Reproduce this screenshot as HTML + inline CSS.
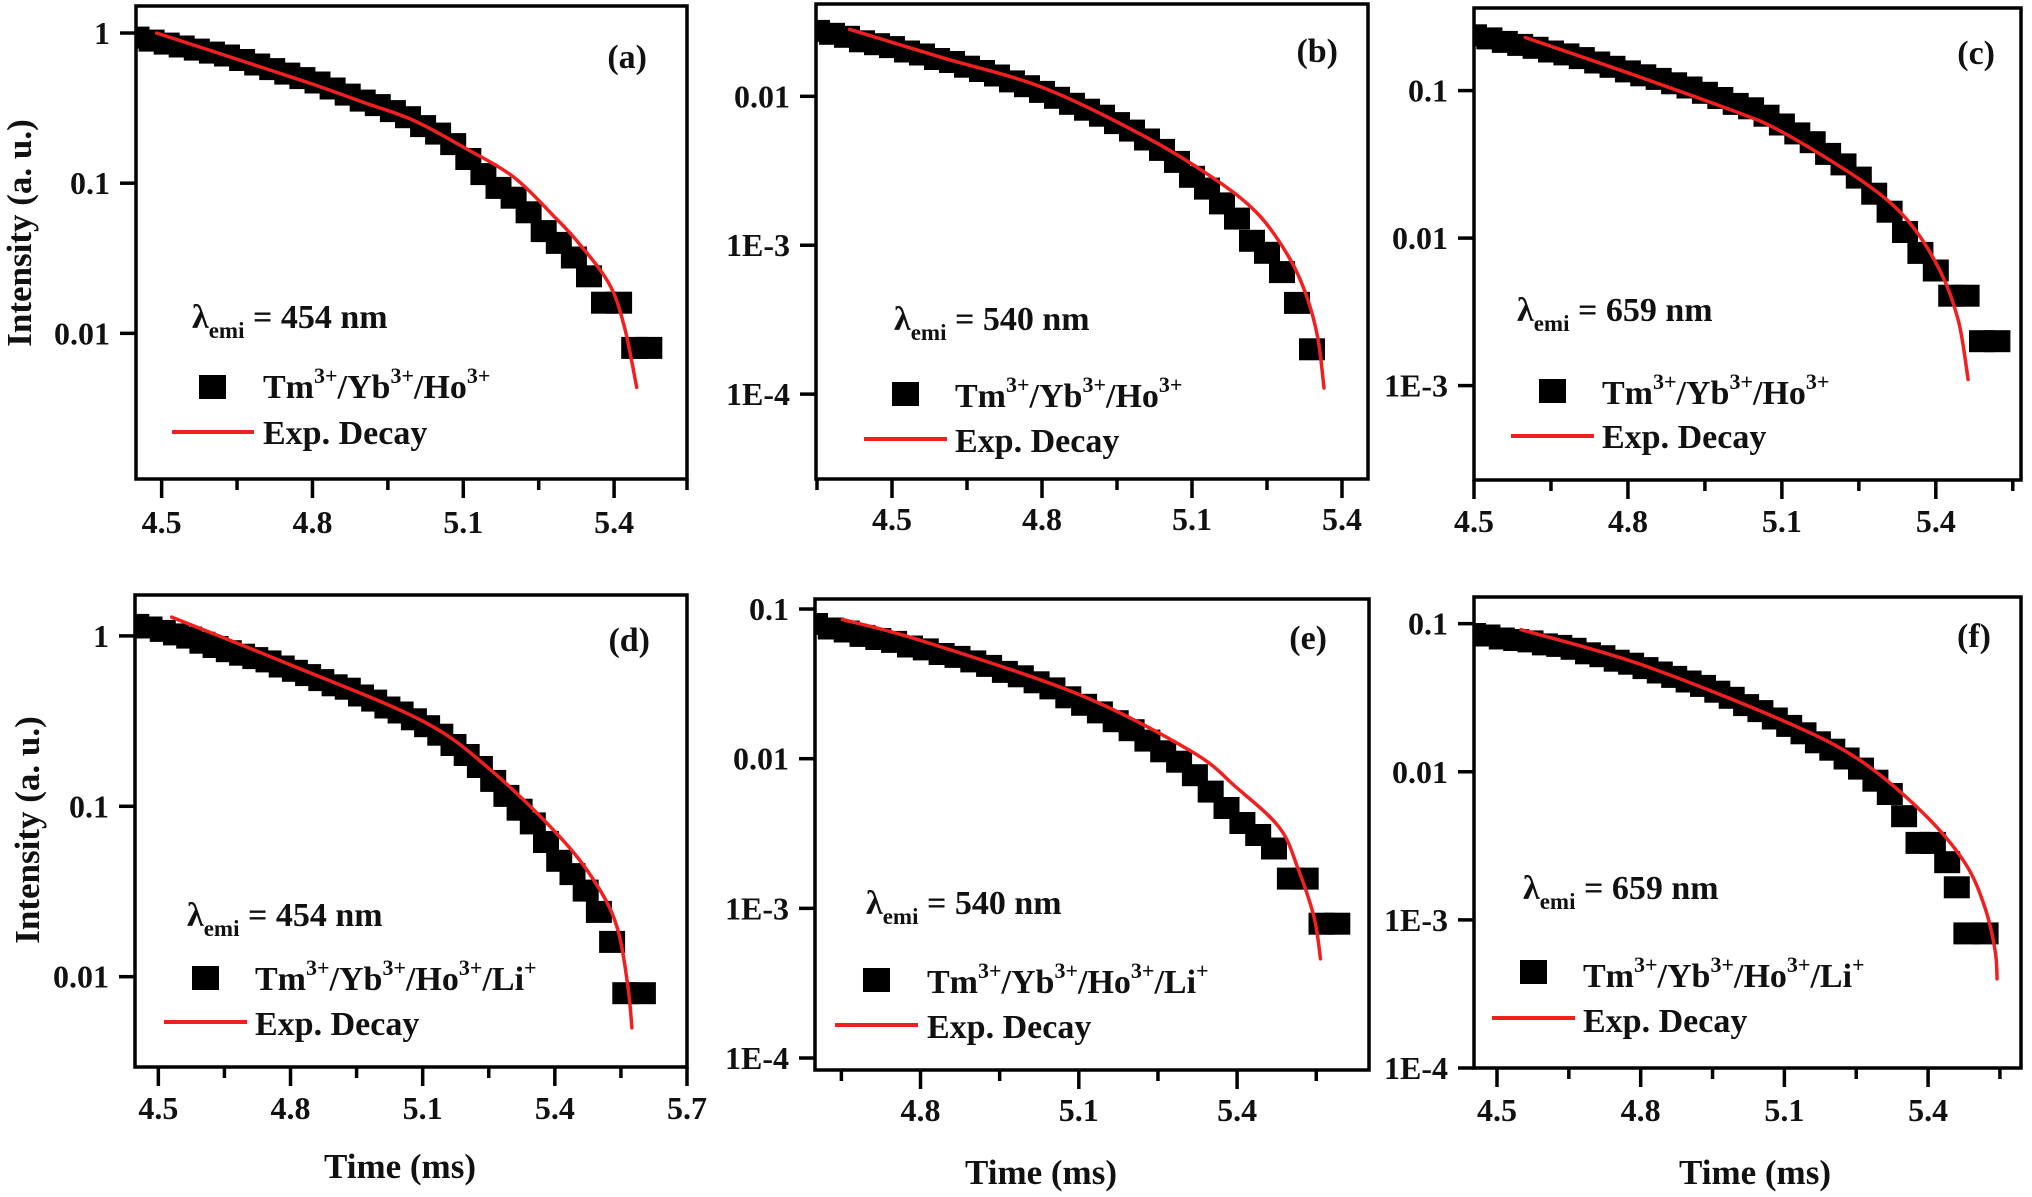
<!DOCTYPE html>
<html><head><meta charset="utf-8">
<style>
html,body{margin:0;padding:0;background:#fff;}
svg{display:block;}
text{font-family:"Liberation Serif","DejaVu Serif",serif;font-weight:bold;fill:#111;}
</style></head>
<body>
<svg id="fig" width="2032" height="1197" viewBox="0 0 2032 1197" xmlns="http://www.w3.org/2000/svg"></svg>
<script>
// ---- data (time in ms, intensity in a.u.) ----
const aTime=[4.45,4.48,4.51,4.54,4.57,4.60,4.63,4.66,4.69,4.72,4.75,4.78,4.81,4.84,4.87,4.90,4.93,4.96,4.99,5.02,5.05,5.08,5.11,5.14,5.17,5.20,5.23,5.26,5.29,5.32,5.35,5.38,5.41,5.44,5.47];
const aInt=[0.933,0.891,0.851,0.813,0.776,0.741,0.708,0.661,0.617,0.575,0.537,0.501,0.468,0.427,0.389,0.355,0.331,0.302,0.275,0.240,0.214,0.182,0.145,0.115,0.093,0.080,0.064,0.048,0.040,0.032,0.024,0.016,0.016,0.008,0.008];
const aFitTime=[4.49,4.6,4.7,4.8,4.9,5.0,5.1,5.2,5.28,5.33,5.39,5.42,5.445];
const aFitInt=[1.0,0.759,0.589,0.457,0.347,0.263,0.174,0.110,0.0603,0.0398,0.0214,0.0112,0.00437];

const bTime=[4.35,4.38,4.41,4.44,4.47,4.50,4.53,4.56,4.59,4.62,4.65,4.68,4.71,4.74,4.77,4.80,4.83,4.86,4.89,4.92,4.95,4.98,5.01,5.04,5.07,5.10,5.13,5.16,5.19,5.22,5.25,5.28,5.31,5.34];
const bInt=[0.0275,0.0263,0.0251,0.0234,0.0224,0.0214,0.0200,0.0191,0.0178,0.0170,0.0158,0.0148,0.0138,0.0126,0.0117,0.0107,0.00977,0.00891,0.00813,0.00741,0.00661,0.00589,0.00513,0.00437,0.00363,0.00288,0.00240,0.00191,0.00151,0.00107,0.00089,0.00066,0.00041,0.00020];
const bFitTime=[4.415,4.6,4.8,5.0,5.143,5.232,5.294,5.33,5.352,5.364];
const bFitInt=[0.0282,0.0182,0.0115,0.0055,0.00282,0.00162,0.00083,0.000447,0.000234,0.00011];

const cTime=[4.50,4.53,4.56,4.59,4.62,4.65,4.68,4.71,4.74,4.77,4.80,4.83,4.86,4.89,4.92,4.95,4.98,5.01,5.04,5.07,5.10,5.13,5.16,5.19,5.22,5.25,5.28,5.31,5.34,5.37,5.40,5.43,5.46,5.49,5.52];
const cInt=[0.237,0.226,0.214,0.204,0.195,0.184,0.176,0.166,0.155,0.145,0.135,0.127,0.120,0.112,0.105,0.0966,0.0891,0.0813,0.0759,0.0676,0.0589,0.0513,0.0447,0.0372,0.0316,0.0257,0.0200,0.0151,0.0110,0.00794,0.00603,0.00407,0.00407,0.0020,0.0020];
const cFitTime=[4.60,4.80,5.0,5.10,5.259,5.345,5.408,5.444,5.463];
const cFitInt=[0.229,0.132,0.0741,0.0525,0.0240,0.0132,0.00603,0.00275,0.0011];

const dTime=[4.45,4.48,4.51,4.54,4.57,4.60,4.63,4.66,4.69,4.72,4.75,4.78,4.81,4.84,4.87,4.90,4.93,4.96,4.99,5.02,5.05,5.08,5.11,5.14,5.17,5.20,5.23,5.26,5.29,5.32,5.35,5.38,5.41,5.44,5.47,5.50,5.53,5.56,5.60];
const dInt=[1.16,1.12,1.07,1.02,0.977,0.912,0.861,0.813,0.776,0.741,0.708,0.661,0.624,0.589,0.550,0.513,0.490,0.447,0.417,0.380,0.355,0.324,0.295,0.263,0.229,0.200,0.170,0.141,0.115,0.0955,0.0794,0.0617,0.0479,0.040,0.032,0.024,0.016,0.008,0.008];
const dFitTime=[4.53,4.8,5.1,5.256,5.408,5.49,5.54,5.565,5.575];
const dFitInt=[1.29,0.676,0.316,0.162,0.0676,0.0363,0.020,0.00912,0.00501];

const eTime=[4.60,4.63,4.66,4.69,4.72,4.75,4.78,4.81,4.84,4.87,4.90,4.93,4.96,4.99,5.02,5.05,5.08,5.11,5.14,5.17,5.20,5.23,5.26,5.29,5.32,5.35,5.38,5.41,5.44,5.47,5.50,5.53,5.56,5.59];
const eInt=[0.0794,0.0741,0.0708,0.0661,0.0631,0.0603,0.0562,0.0537,0.0501,0.0479,0.0447,0.0417,0.0380,0.0355,0.0324,0.0295,0.0257,0.0229,0.0204,0.0178,0.0155,0.0132,0.0112,0.00955,0.00776,0.00603,0.00468,0.00372,0.00309,0.00251,0.00158,0.00158,0.00079,0.00079];
const eFitTime=[4.652,4.8,5.1,5.313,5.398,5.48,5.515,5.546,5.558];
const eFitInt=[0.0851,0.0617,0.0269,0.0112,0.00646,0.00347,0.00186,0.00087,0.00046];

const fTime=[4.45,4.48,4.51,4.54,4.57,4.60,4.63,4.66,4.69,4.72,4.75,4.78,4.81,4.84,4.87,4.90,4.93,4.96,4.99,5.02,5.05,5.08,5.11,5.14,5.17,5.20,5.23,5.26,5.29,5.32,5.35,5.38,5.41,5.44,5.46,5.48,5.52];
const fInt=[0.0851,0.0832,0.0794,0.0776,0.0759,0.0724,0.0708,0.0676,0.0631,0.0603,0.0562,0.0537,0.0501,0.0468,0.0437,0.0407,0.0380,0.0347,0.0316,0.0282,0.0257,0.0229,0.0204,0.0182,0.0158,0.0141,0.0123,0.0105,0.0087,0.00708,0.00501,0.00331,0.00331,0.00245,0.00166,0.00081,0.00081];
const fFitTime=[4.55,4.80,5.10,5.257,5.39,5.476,5.518,5.54,5.544];
const fFitInt=[0.0912,0.0531,0.0219,0.0120,0.00525,0.00245,0.00123,0.00062,0.00040];

const panelLetters=["a","b","c","d","e","f"];
const wavelengths=["454","540","659","454","540","659"];

const NS="http://www.w3.org/2000/svg";
const svg=document.getElementById('fig');
function mk(tag,attrs,parent){const e=document.createElementNS(NS,tag);for(const k in attrs)e.setAttribute(k,attrs[k]);(parent||svg).appendChild(e);return e;}

const panels=[
 {id:"a",t:aTime,v:aInt,ft:aFitTime,fv:aFitInt,x0:136,x1:687,y0:6,y1:479,tMin:4.449,tMax:5.545,lTop:0.18,lBot:-2.97,
  lam:[56,322],sq:[63,369],txt:[127,392],line:[36,118,426],exp:[127,438],lab:[647,62],li:false,xlab:533,ytitle:[19,233]},
 {id:"b",t:bTime,v:bInt,ft:bFitTime,fv:bFitInt,x0:816,x1:1368,y0:4,y1:479,tMin:4.348,tMax:5.452,lTop:-1.38,lBot:-4.57,
  lam:[78,326],sq:[76,378],txt:[139,403],line:[48,131,435],exp:[139,448],lab:[1338,58],li:false,xlab:530},
 {id:"c",t:cTime,v:cInt,ft:cFitTime,fv:cFitInt,x0:1474,x1:2021,y0:8,y1:480,tMin:4.5,tMax:5.566,lTop:-0.44,lBot:-3.64,
  lam:[43,313],sq:[65,371],txt:[128,396],line:[37,120,428],exp:[128,440],lab:[1995,56],li:false,xlab:532},
 {id:"d",t:dTime,v:dInt,ft:dFitTime,fv:dFitInt,x0:135,x1:687,y0:595,y1:1067,tMin:4.447,tMax:5.7,lTop:0.24,lBot:-2.53,
  lam:[52,331],sq:[57,371],txt:[120,395],line:[29,112,427],exp:[120,440],lab:[650,56],li:true,xlab:1119,ytitle:[27,830],xt:[400,1178]},
 {id:"e",t:eTime,v:eInt,ft:eFitTime,fv:eFitInt,x0:815,x1:1369,y0:599,y1:1070,tMin:4.60,tMax:5.65,lTop:-0.933,lBot:-4.08,
  lam:[51,315],sq:[48,369],txt:[112,394],line:[20,103,426],exp:[112,439],lab:[1327,50],li:true,xlab:1121,xt:[1041,1184]},
 {id:"f",t:fTime,v:fInt,ft:fFitTime,fv:fFitInt,x0:1474,x1:2021,y0:597,y1:1068,tMin:4.452,tMax:5.594,lTop:-0.82,lBot:-4.0,
  lam:[49,302],sq:[46,363],txt:[109,390],line:[18,101,421],exp:[109,435],lab:[1991,50],li:true,xlab:1121,xt:[1755,1184]}
];

function catmull(pts){
  let d="M"+pts[0][0].toFixed(1)+","+pts[0][1].toFixed(1);
  for(let i=0;i<pts.length-1;i++){
    const p0=pts[i-1]||pts[i],p1=pts[i],p2=pts[i+1],p3=pts[i+2]||p2;
    const c1=[p1[0]+(p2[0]-p0[0])/6,p1[1]+(p2[1]-p0[1])/6];
    const c2=[p2[0]-(p3[0]-p1[0])/6,p2[1]-(p3[1]-p1[1])/6];
    d+=" C"+c1[0].toFixed(1)+","+c1[1].toFixed(1)+" "+c2[0].toFixed(1)+","+c2[1].toFixed(1)+" "+p2[0].toFixed(1)+","+p2[1].toFixed(1);
  }
  return d;
}
function yLabel(k){return k===0?"1":k===-1?"0.1":k===-2?"0.01":"1E"+k;}

panels.forEach((p,pi)=>{
  const g=mk('g',{});
  
  
  const X=t=>p.x0+(t-p.tMin)/(p.tMax-p.tMin)*(p.x1-p.x0);
  const Y=v=>p.y0+(p.lTop-Math.log10(v))/(p.lTop-p.lBot)*(p.y1-p.y0);

  const dg=mk('g',{},g);
  
  
  const sw=26,sh=22;
  p.t.forEach((t,i)=>{
    const x=Math.max(p.x0,X(t)-sw/2), xr=X(t)+sw/2;
    const r=mk('rect',{x:x.toFixed(1),y:(Y(p.v[i])-sh/2).toFixed(1),width:(xr-x).toFixed(1),height:sh,fill:'#000'},dg);
    
    
  });
  const fp=catmull(p.ft.map((t,i)=>[X(t),Y(p.fv[i])]));
  const fl=mk('path',{d:fp,fill:'none',stroke:'#f02020','stroke-width':3.5,'stroke-linecap':'round'},g);
  
  

  const fr=mk('rect',{x:p.x0,y:p.y0,width:p.x1-p.x0,height:p.y1-p.y0,fill:'none',stroke:'#000','stroke-width':3.5},g);
  
  

  for(let k=Math.floor(p.lTop);k>=Math.ceil(p.lBot-0.01);k--){
    const y=Y(Math.pow(10,k));
    if(y>p.y1+1)continue;
    const tk=mk('line',{x1:p.x0-16,x2:p.x0,y1:y,y2:y,stroke:'#000','stroke-width':3.5},g);
    
    
    const tl=mk('text',{x:p.x0-26,y:y+11,'text-anchor':'end','font-size':32},g);
    tl.textContent=yLabel(k);
    
    
  }
  for(let n=-2;n<=10;n++){
    const t=4.5+0.15*n;
    if(t<p.tMin-0.01||t>p.tMax+0.01)continue;
    const x=Math.min(Math.max(X(t),p.x0),p.x1);
    const major=(n%2===0);
    const tk=mk('line',{x1:x,x2:x,y1:p.y1,y2:p.y1+(major?19:11),stroke:'#000','stroke-width':3.5},g);
    
    
    if(major){
      const tl=mk('text',{x:x,y:p.xlab,'text-anchor':'middle','font-size':32},g);
      tl.textContent=t.toFixed(1);
      
      
    }
  }
  const lb=mk('text',{x:p.lab[0],y:p.y0+p.lab[1],'text-anchor':'end','font-size':34},g);
  lb.textContent="("+panelLetters[pi]+")";
  
  
  const la=mk('text',{x:p.x0+p.lam[0],y:p.y0+p.lam[1],'font-size':34},g);
  la.innerHTML='λ<tspan font-size="23" dy="10">emi</tspan><tspan dy="-10"> = '+wavelengths[pi]+' nm</tspan>';
  
  
  const lg=mk('g',{},g);
  
  
  const ls=mk('rect',{x:p.x0+p.sq[0],y:p.y0+p.sq[1],width:27,height:24,fill:'#000'},lg);
  
  
  const lt=mk('text',{x:p.x0+p.txt[0],y:p.y0+p.txt[1],'font-size':34},lg);
  lt.innerHTML='Tm<tspan font-size="22" dy="-15">3+</tspan><tspan dy="15">/Yb</tspan><tspan font-size="22" dy="-15">3+</tspan><tspan dy="15">/Ho</tspan><tspan font-size="22" dy="-15">3+</tspan>'+(p.li?'<tspan dy="15">/Li</tspan><tspan font-size="22" dy="-15">+</tspan>':'');
  
  
  const ll=mk('line',{x1:p.x0+p.line[0],x2:p.x0+p.line[1],y1:p.y0+p.line[2],y2:p.y0+p.line[2],stroke:'#f02020','stroke-width':4},lg);
  
  
  const le=mk('text',{x:p.x0+p.exp[0],y:p.y0+p.exp[1],'font-size':34},lg);
  le.textContent='Exp. Decay';
  
  

  if(p.ytitle){
    const yt=mk('text',{x:0,y:0,'text-anchor':'middle','font-size':35,transform:'translate('+(p.ytitle[0]+12)+','+p.ytitle[1]+') rotate(-90)'},g);
    yt.textContent='Intensity (a. u.)';
    
    
  }
  if(p.xt){
    const xt=mk('text',{x:p.xt[0],y:p.xt[1],'text-anchor':'middle','font-size':35},g);
    xt.textContent='Time (ms)';
    
    
  }
});
</script>
</body></html>
